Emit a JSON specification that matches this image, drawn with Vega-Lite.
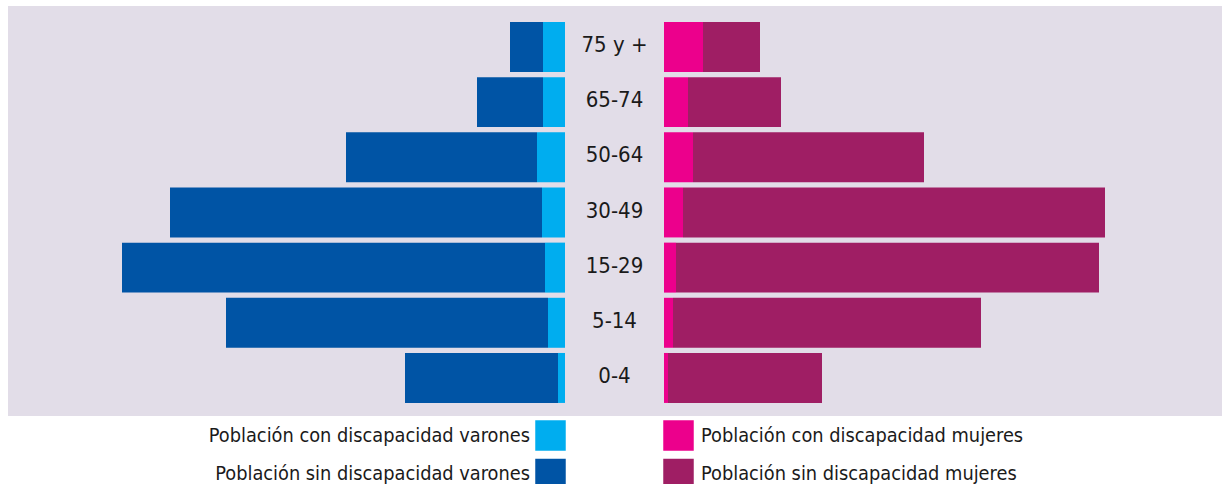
{
  "$schema": "https://vega.github.io/schema/vega-lite/v6.json",
  "padding": {"left": 8, "top": 6, "right": 0, "bottom": 0},
  "background": "#ffffff",
  "config": {
    "view": {"fill": "#e2dde8", "stroke": null},
    "font": "DejaVu Sans Condensed, Liberation Sans, sans-serif"
  },
  "datasets": {
    "piramide": [
      {"edad": "75 y +", "sexo": "varones", "serie": "Población con discapacidad varones", "valor": 22},
      {"edad": "75 y +", "sexo": "varones", "serie": "Población sin discapacidad varones", "valor": 33},
      {"edad": "65-74", "sexo": "varones", "serie": "Población con discapacidad varones", "valor": 22},
      {"edad": "65-74", "sexo": "varones", "serie": "Población sin discapacidad varones", "valor": 66},
      {"edad": "50-64", "sexo": "varones", "serie": "Población con discapacidad varones", "valor": 28},
      {"edad": "50-64", "sexo": "varones", "serie": "Población sin discapacidad varones", "valor": 191},
      {"edad": "30-49", "sexo": "varones", "serie": "Población con discapacidad varones", "valor": 23},
      {"edad": "30-49", "sexo": "varones", "serie": "Población sin discapacidad varones", "valor": 372},
      {"edad": "15-29", "sexo": "varones", "serie": "Población con discapacidad varones", "valor": 20},
      {"edad": "15-29", "sexo": "varones", "serie": "Población sin discapacidad varones", "valor": 423},
      {"edad": "5-14", "sexo": "varones", "serie": "Población con discapacidad varones", "valor": 17},
      {"edad": "5-14", "sexo": "varones", "serie": "Población sin discapacidad varones", "valor": 322},
      {"edad": "0-4", "sexo": "varones", "serie": "Población con discapacidad varones", "valor": 7},
      {"edad": "0-4", "sexo": "varones", "serie": "Población sin discapacidad varones", "valor": 153},
      {"edad": "75 y +", "sexo": "mujeres", "serie": "Población con discapacidad mujeres", "valor": 39},
      {"edad": "75 y +", "sexo": "mujeres", "serie": "Población sin discapacidad mujeres", "valor": 57},
      {"edad": "65-74", "sexo": "mujeres", "serie": "Población con discapacidad mujeres", "valor": 24},
      {"edad": "65-74", "sexo": "mujeres", "serie": "Población sin discapacidad mujeres", "valor": 93},
      {"edad": "50-64", "sexo": "mujeres", "serie": "Población con discapacidad mujeres", "valor": 29},
      {"edad": "50-64", "sexo": "mujeres", "serie": "Población sin discapacidad mujeres", "valor": 231},
      {"edad": "30-49", "sexo": "mujeres", "serie": "Población con discapacidad mujeres", "valor": 19},
      {"edad": "30-49", "sexo": "mujeres", "serie": "Población sin discapacidad mujeres", "valor": 422},
      {"edad": "15-29", "sexo": "mujeres", "serie": "Población con discapacidad mujeres", "valor": 12},
      {"edad": "15-29", "sexo": "mujeres", "serie": "Población sin discapacidad mujeres", "valor": 423},
      {"edad": "5-14", "sexo": "mujeres", "serie": "Población con discapacidad mujeres", "valor": 9},
      {"edad": "5-14", "sexo": "mujeres", "serie": "Población sin discapacidad mujeres", "valor": 308},
      {"edad": "0-4", "sexo": "mujeres", "serie": "Población con discapacidad mujeres", "valor": 4},
      {"edad": "0-4", "sexo": "mujeres", "serie": "Población sin discapacidad mujeres", "valor": 154}
    ],
    "edades": [
      {"edad": "75 y +"}, {"edad": "65-74"}, {"edad": "50-64"}, {"edad": "30-49"},
      {"edad": "15-29"}, {"edad": "5-14"}, {"edad": "0-4"}
    ]
  },
  "hconcat": [
    {
      "width": 557,
      "height": 410,
      "data": {"name": "piramide"},
      "transform": [{"filter": "datum.sexo === 'varones'"}],
      "mark": {"type": "bar"},
      "encoding": {
        "y": {
          "field": "edad", "type": "nominal",
          "sort": ["75 y +", "65-74", "50-64", "30-49", "15-29", "5-14", "0-4"],
          "scale": {"paddingInner": 0.094, "paddingOuter": 0.263, "align": 0.55},
          "axis": null
        },
        "x": {
          "field": "valor", "type": "quantitative", "stack": "zero",
          "scale": {"domain": [0, 557], "reverse": true, "nice": false, "zero": true},
          "axis": null
        },
        "color": {
          "field": "serie", "type": "nominal",
          "scale": {
            "domain": ["Población con discapacidad varones", "Población sin discapacidad varones"],
            "range": ["#00adef", "#0054a5"]
          },
          "legend": {
            "orient": "none", "legendX": 527, "legendY": 414,
            "title": null, "padding": 0,
            "symbolType": "square", "symbolSize": 930, "symbolStrokeWidth": 0,
            "symbolOpacity": 1,
            "labelAlign": "right", "labelOffset": -36, "labelLimit": 500,
            "labelFontSize": 19.8, "labelFont": "DejaVu Sans Condensed, Liberation Sans, sans-serif", "labelColor": "#1a1a1a",
            "rowPadding": 7.5
          }
        }
      }
    },
    {
      "width": 99,
      "height": 410,
      "data": {"name": "edades"},
      "mark": {"type": "text", "fontSize": 22, "font": "DejaVu Sans Condensed, Liberation Sans, sans-serif", "color": "#1a1a1a", "baseline": "middle", "align": "center", "dy": -2},
      "encoding": {
        "y": {
          "field": "edad", "type": "nominal",
          "sort": ["75 y +", "65-74", "50-64", "30-49", "15-29", "5-14", "0-4"],
          "scale": {"type": "point", "padding": 0.716, "align": 0.519},
          "axis": null
        },
        "text": {"field": "edad", "type": "nominal"}
      }
    },
    {
      "width": 558,
      "height": 410,
      "data": {"name": "piramide"},
      "transform": [{"filter": "datum.sexo === 'mujeres'"}],
      "mark": {"type": "bar"},
      "encoding": {
        "y": {
          "field": "edad", "type": "nominal",
          "sort": ["75 y +", "65-74", "50-64", "30-49", "15-29", "5-14", "0-4"],
          "scale": {"paddingInner": 0.094, "paddingOuter": 0.263, "align": 0.55},
          "axis": null
        },
        "x": {
          "field": "valor", "type": "quantitative", "stack": "zero",
          "scale": {"domain": [0, 558], "nice": false, "zero": true},
          "axis": null
        },
        "color": {
          "field": "serie", "type": "nominal",
          "scale": {
            "domain": ["Población con discapacidad mujeres", "Población sin discapacidad mujeres"],
            "range": ["#ec008c", "#9f1e64"]
          },
          "legend": {
            "orient": "none", "legendX": -1, "legendY": 414,
            "title": null, "padding": 0,
            "symbolType": "square", "symbolSize": 930, "symbolStrokeWidth": 0,
            "symbolOpacity": 1,
            "labelAlign": "left", "labelOffset": 7, "labelLimit": 500,
            "labelFontSize": 19.8, "labelFont": "DejaVu Sans Condensed, Liberation Sans, sans-serif", "labelColor": "#1a1a1a",
            "rowPadding": 7.5
          }
        }
      }
    }
  ],
  "spacing": 0,
  "bounds": "flush",
  "resolve": {"scale": {"color": "independent", "y": "independent", "x": "independent"}, "legend": {"color": "independent"}}
}
